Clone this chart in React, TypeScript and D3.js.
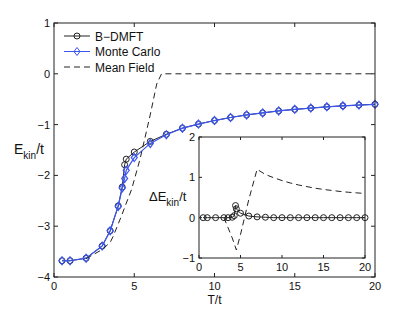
import React, { useEffect, useRef } from 'react';
import * as d3 from 'd3';

// main panel: kinetic energy vs temperature
const tMC = [0.5, 1, 2, 3, 3.5, 4, 4.25, 4.4, 4.5, 5, 6, 7, 8, 9, 10, 11, 12, 13, 14, 15, 16, 17, 18, 19, 20];
const eMC = [-3.68, -3.68, -3.63, -3.39, -3.09, -2.61, -2.25, -2.06, -1.9, -1.65, -1.37, -1.2, -1.07, -0.99, -0.92, -0.86, -0.81, -0.77, -0.73, -0.7, -0.675, -0.65, -0.63, -0.615, -0.6];
const eDMFT = [-3.68, -3.68, -3.63, -3.39, -3.09, -2.6, -2.23, -1.79, -1.68, -1.54, -1.33, -1.19, -1.07, -0.99, -0.92, -0.86, -0.81, -0.77, -0.73, -0.7, -0.675, -0.65, -0.63, -0.615, -0.6];
const tMF = [2, 3, 3.5, 3.7, 4.2, 4.84, 5.36, 5.98, 6.4, 6.7, 20];
const eMF = [-3.64, -3.46, -3.32, -3.19, -2.8, -2.27, -1.68, -0.83, -0.2, 0, 0];

// inset: difference to Monte Carlo
const dDMFT = [0, 0, 0, 0, 0, 0.01, 0.05, 0.3, 0.22, 0.11, 0.04, 0.02, 0.01, 0, 0, 0, 0, 0, 0, 0, 0, 0, 0, 0, 0];
const tMFd = [3, 3.5, 4, 4.5, 5, 6, 7, 8, 9, 10, 11, 12, 13, 14, 15, 16, 17, 18, 19, 20];
const dMF = [0, -0.25, -0.5, -0.8, -0.42, 0.45, 1.2, 1.07, 0.99, 0.92, 0.86, 0.81, 0.77, 0.73, 0.7, 0.675, 0.65, 0.63, 0.615, 0.6];

const legendNames = ['B\u2212DMFT', 'Monte Carlo', 'Mean Field'];
const mainXTicks = [0, 5, 10, 15, 20];
const mainYTicks = [-4, -3, -2, -1, 0, 1];
const insetXTicks = [0, 5, 10, 15, 20];
const insetYTicks = [-1, 0, 1, 2];

const W = 415;
const H = 313;
const BLUE = '#3a55f0';
const FONT = 'Liberation Sans, Arial, Helvetica, sans-serif';
const fmt = (v: number) => (v < 0 ? '\u2212' + Math.abs(v) : String(v));
const diamond = 'M0,-4L3,0L0,4L-3,0Z';

function drawBox(g: any, x: any, y: any, xt: number[], yt: number[], tick: number) {
  const [x0, x1] = x.range();
  const [y0, y1] = y.range();
  g.append('rect')
    .attr('x', x0).attr('y', y1)
    .attr('width', x1 - x0).attr('height', y0 - y1)
    .attr('fill', 'none').attr('stroke', '#222').attr('stroke-width', 1);
  for (const v of xt) {
    g.append('line').attr('x1', x(v)).attr('x2', x(v)).attr('y1', y0).attr('y2', y0 - tick).attr('stroke', '#222');
    g.append('line').attr('x1', x(v)).attr('x2', x(v)).attr('y1', y1).attr('y2', y1 + tick).attr('stroke', '#222');
    g.append('text').attr('x', x(v)).attr('y', y0 + 13).attr('text-anchor', 'middle').text(fmt(v));
  }
  for (const v of yt) {
    g.append('line').attr('x1', x0).attr('x2', x0 + tick).attr('y1', y(v)).attr('y2', y(v)).attr('stroke', '#222');
    g.append('line').attr('x1', x1).attr('x2', x1 - tick).attr('y1', y(v)).attr('y2', y(v)).attr('stroke', '#222');
    g.append('text').attr('x', x0 - 4).attr('y', y(v) + 4).attr('text-anchor', 'end').text(fmt(v));
  }
}

export default function App() {
  const ref = useRef<SVGSVGElement>(null);

  useEffect(() => {
    const svg = d3.select(ref.current);
    svg.selectAll('*').remove();
    const root = svg.append('g').attr('font-family', FONT).attr('font-size', 11).attr('fill', '#111');

    const x = d3.scaleLinear().domain([0, 20]).range([54, 375]);
    const y = d3.scaleLinear().domain([-4, 1]).range([277, 23]);
    const line = d3.line<[number, number]>().x((d) => x(d[0])).y((d) => y(d[1]));

    const dmft = tMC.map((t, i) => [t, eDMFT[i]] as [number, number]);
    const mc = tMC.map((t, i) => [t, eMC[i]] as [number, number]);
    const mf = tMF.map((t, i) => [t, eMF[i]] as [number, number]);

    root.append('path').attr('d', line(dmft)).attr('fill', 'none').attr('stroke', '#222').attr('stroke-width', 1);
    root.append('g').selectAll('circle').data(dmft).join('circle')
      .attr('cx', (d) => x(d[0])).attr('cy', (d) => y(d[1])).attr('r', 3)
      .attr('fill', 'none').attr('stroke', '#222');
    root.append('path').attr('d', line(mc)).attr('fill', 'none').attr('stroke', BLUE).attr('stroke-width', 1.2);
    root.append('g').selectAll('path').data(mc).join('path')
      .attr('d', diamond).attr('transform', (d) => `translate(${x(d[0])},${y(d[1])})`)
      .attr('fill', 'none').attr('stroke', BLUE).attr('stroke-width', 1.2);
    root.append('path').attr('d', line(mf)).attr('fill', 'none').attr('stroke', '#222')
      .attr('stroke-width', 1).attr('stroke-dasharray', '6,4');

    drawBox(root, x, y, mainXTicks, mainYTicks, 4);

    // axis labels
    const yl = root.append('text').attr('x', 14).attr('y', 154).attr('font-size', 14);
    yl.append('tspan').text('E');
    yl.append('tspan').attr('font-size', 10).attr('dy', 5).text('kin');
    yl.append('tspan').attr('dy', -5).text('/t');
    root.append('text').attr('x', x(10)).attr('y', 304).attr('text-anchor', 'middle').attr('font-size', 12).text('T/t');

    // legend
    const lg = root.append('g').attr('font-size', 12);
    legendNames.forEach((name, i) => {
      const cy = 36 + i * 15.5;
      const col = i === 1 ? BLUE : '#222';
      lg.append('line').attr('x1', 64).attr('x2', 90).attr('y1', cy).attr('y2', cy)
        .attr('stroke', col).attr('stroke-dasharray', i === 2 ? '6,4' : null);
      if (i === 0) lg.append('circle').attr('cx', 77).attr('cy', cy).attr('r', 3).attr('fill', 'none').attr('stroke', col);
      if (i === 1) lg.append('path').attr('d', diamond).attr('transform', `translate(77,${cy})`).attr('fill', 'none').attr('stroke', col);
      lg.append('text').attr('x', 95).attr('y', cy + 4.5).text(name);
    });

    // inset
    const xi = d3.scaleLinear().domain([0, 20]).range([199, 365]);
    const yi = d3.scaleLinear().domain([-1, 2]).range([258, 137]);
    const li = d3.line<[number, number]>().x((d) => xi(d[0])).y((d) => yi(d[1]));
    const ins = root.append('g');
    ins.append('rect').attr('x', 199).attr('y', 137).attr('width', 166).attr('height', 121).attr('fill', 'white');
    const dd = tMC.map((t, i) => [t, dDMFT[i]] as [number, number]);
    const dm = tMFd.map((t, i) => [t, dMF[i]] as [number, number]);
    ins.append('path').attr('d', li(dd)).attr('fill', 'none').attr('stroke', '#222');
    ins.append('g').selectAll('circle').data(dd).join('circle')
      .attr('cx', (d) => xi(d[0])).attr('cy', (d) => yi(d[1])).attr('r', 3)
      .attr('fill', 'none').attr('stroke', '#222');
    ins.append('path').attr('d', li(dm)).attr('fill', 'none').attr('stroke', '#222').attr('stroke-dasharray', '6,4');
    drawBox(ins, xi, yi, insetXTicks, insetYTicks, 3);
    const il = ins.append('text').attr('x', 149).attr('y', 201).attr('font-size', 13);
    il.append('tspan').text('\u0394E');
    il.append('tspan').attr('font-size', 10).attr('dy', 5).text('kin');
    il.append('tspan').attr('dy', -5).text('/t');
  }, []);

  return (
    <svg ref={ref} width={W} height={H} style={{ position: 'absolute', left: 0, top: 0, background: 'white' }} />
  );
}
